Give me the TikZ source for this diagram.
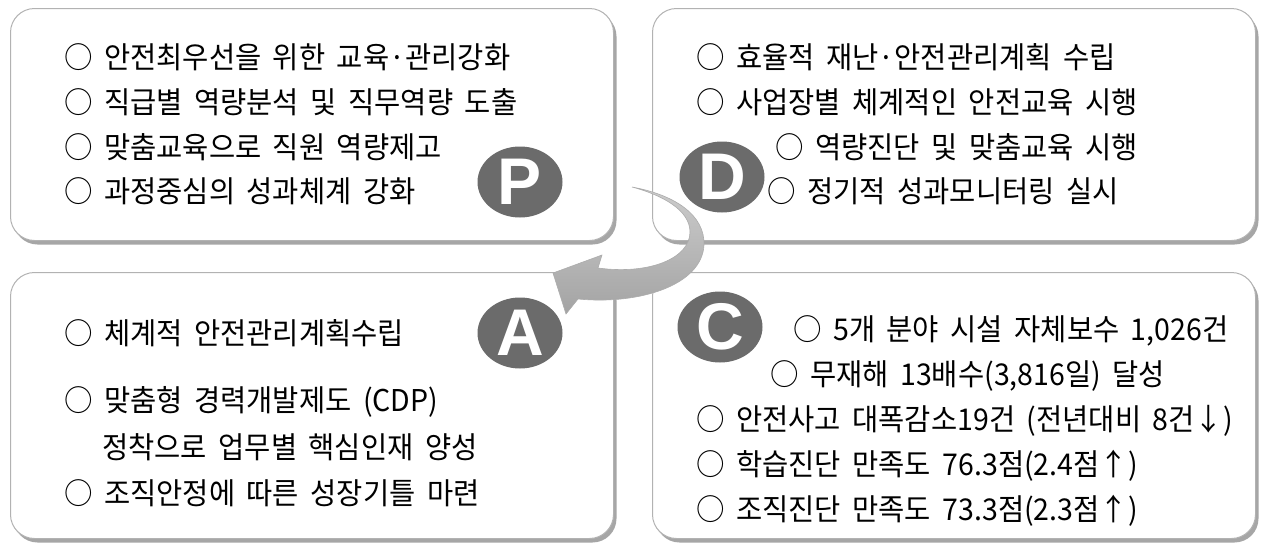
\documentclass[tikz,border=0pt]{standalone}
\usepackage{fontspec}
\setmainfont[FakeStretch=0.95,WordSpace=1.8]{Noto Sans CJK KR}
\newfontfamily\letterfont{Liberation Sans}
\usetikzlibrary{shadows,shapes.geometric}

\tikzset{
  panel/.style={draw=gray!60, line width=1pt, fill=white, rounded corners=24pt,
    drop shadow={shadow xshift=3pt, shadow yshift=-4pt, fill=gray!70, opacity=1},
    minimum width=603pt, minimum height=232pt, anchor=north west, inner sep=0pt},
  letterdot/.style={ellipse, fill=black!58, text=white, minimum width=85pt, minimum height=71pt,
    inner sep=0pt, font=\letterfont\bfseries\fontsize{66}{66}\selectfont},
  item/.style={anchor=west, inner sep=0pt, font=\fontsize{30}{33}\selectfont},
}

\begin{document}
\begin{tikzpicture}[x=1pt,y=-1pt]
  \useasboundingbox (0,0) rectangle (1261,547);
  %% panels
  \node[panel] (pbox) at (10,8) {};
  \node[panel] (dbox) at (652,8) {};
  \node[panel, minimum height=266pt] (abox) at (10,272) {};
  \node[panel, minimum height=266pt] (cbox) at (652,272) {};
  %% P
  \node[item] (p1) at (64,57) {○ 안전최우선을 위한 교육·관리강화};
  \node[item] (p2) at (64,102) {○ 직급별 역량분석 및 직무역량 도출};
  \node[item] (p3) at (64,147) {○ 맞춤교육으로 직원 역량제고};
  \node[item] (p4) at (64,191) {○ 과정중심의 성과체계 강화};
  \node[letterdot] (pdot) at (520,182) {P};
  %% D
  \node[item] (d1) at (696,57) {○ 효율적 재난·안전관리계획 수립};
  \node[item] (d2) at (696,102) {○ 사업장별 체계적인 안전교육 시행};
  \node[item] (d3) at (775,147) {○ 역량진단 및 맞춤교육 시행};
  \node[item] (d4) at (767,191) {○ 정기적 성과모니터링 실시};
  \node[letterdot] (ddot) at (722,177) {D};
  %% A
  \node[item] (a1) at (64,333) {○ 체계적 안전관리계획수립};
  \node[item] (a2) at (64,402) {○ 맞춤형 경력개발제도 (CDP)};
  \node[item] (a3) at (102,447) {정착으로 업무별 핵심인재 양성};
  \node[item] (a4) at (64,493) {○ 조직안정에 따른 성장기틀 마련};
  \node[letterdot] (adot) at (520,333) {A};
  %% C
  \node[item] (c1) at (793,331) {○ 5개 분야 시설 자체보수 1,026건};
  \node[item] (c2) at (770,376) {○ 무재해 13배수(3,816일) 달성};
  \node[item] (c3) at (696,421) {○ 안전사고 대폭감소19건 (전년대비 8건↓)};
  \node[item] (c4) at (696,466) {○ 학습진단 만족도 76.3점(2.4점↑)};
  \node[item] (c5) at (696,511) {○ 조직진단 만족도 73.3점(2.3점↑)};
  \node[letterdot] (cdot) at (720,327) {C};
  %% cycle arrow
  \shade[top color=gray!40, bottom color=gray!72, draw=gray!65, line width=0.6pt]
    (553,273) -- (602,255) -- (598,268)
    .. controls (650,275) and (690,258) .. (690,232)
    .. controls (690,210) and (662,195) .. (632,187)
    .. controls (675,195) and (705,215) .. (704,245)
    .. controls (702,285) and (640,305) .. (578,299)
    -- (566,314) -- cycle;
\end{tikzpicture}
\end{document}
